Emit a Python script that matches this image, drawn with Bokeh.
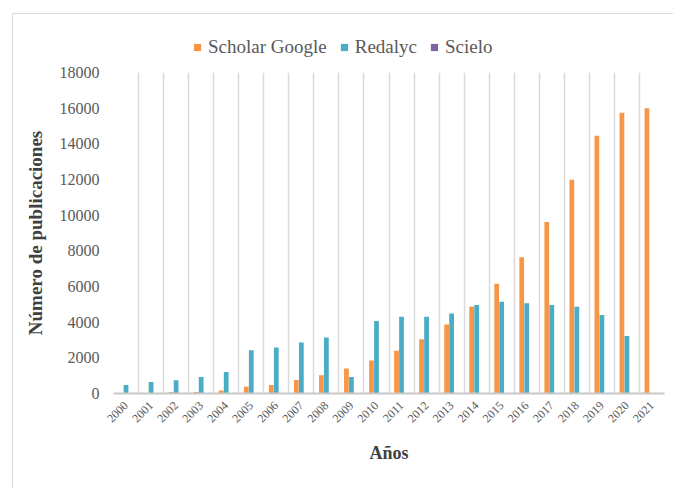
from bokeh.plotting import figure
from bokeh.models import ColumnDataSource, FixedTicker, Range1d, Legend, LegendItem
from bokeh.transform import dodge
from bokeh.layouts import column
from bokeh.embed import file_html
from bokeh.resources import INLINE

years = ["2000", "2001", "2002", "2003", "2004", "2005", "2006", "2007", "2008", "2009", "2010",
         "2011", "2012", "2013", "2014", "2015", "2016", "2017", "2018", "2019", "2020", "2021"]
scholar_google = [0, 0, 80, 80, 170, 380, 480, 760, 1020, 1400, 1850, 2400, 3040, 3870, 4880,
                  6160, 7640, 9610, 11990, 14450, 15750, 16000]
redalyc = [480, 650, 740, 930, 1210, 2420, 2580, 2860, 3140, 930, 4060, 4310, 4310, 4490, 4960,
           5150, 5060, 4960, 4870, 4400, 3230, 0]
scielo = [0] * 22
series_names = ["Scholar Google", "Redalyc", "Scielo"]
series_cols = ["sg", "rd", "sc"]
series_colors = ["#F79646", "#4BACC6", "#8064A2"]
y_ticks = [0, 2000, 4000, 6000, 8000, 10000, 12000, 14000, 16000, 18000]

n = len(years)
pos = [i + 0.5 for i in range(n)]
src = ColumnDataSource(dict(x=pos, sg=scholar_google, rd=redalyc, sc=scielo))

SERIF = "Liberation Serif"
TXT = "#595959"
offsets = [-0.2, 0.0, 0.2]

# ---- legend strip (its visible range holds no data, only the legend shows) ----
lg = figure(width=660, height=44, output_backend="svg", toolbar_location=None,
            x_range=Range1d(0, n), y_range=Range1d(20000, 30000), min_border=0,
            x_axis_location=None, y_axis_location=None)
lg.outline_line_color = None
lg.background_fill_color = "white"
lg.border_fill_color = "white"
for g in lg.xgrid + lg.ygrid:
    g.grid_line_color = None
    g.visible = False
items = []
for name, colname, colr in zip(series_names, series_cols, series_colors):
    r = lg.scatter(x="x", y=colname, marker="square", size=7, source=src,
                   fill_color=colr, line_color=None)
    items.append(LegendItem(label=name, renderers=[r]))
legend = Legend(items=items, orientation="horizontal", location=(75, 0))
legend.label_text_font = SERIF
legend.label_text_font_size = "19px"
legend.label_text_color = TXT
legend.glyph_width = 18
legend.glyph_height = 18
legend.label_standoff = 2
legend.spacing = 8
legend.padding = 0
legend.margin = 0
legend.border_line_color = None
legend.background_fill_alpha = 0
lg.add_layout(legend, "center")

# ---- main chart ----
p = figure(width=660, height=430, output_backend="svg", toolbar_location=None,
           x_range=Range1d(0, n), y_range=Range1d(0, 18000),
           min_border_left=100, min_border_right=9, min_border_top=14, min_border_bottom=95)
p.outline_line_color = None
p.background_fill_color = "white"
p.border_fill_color = "white"

for colname, colr, off in zip(series_cols, series_colors, offsets):
    p.vbar(x=dodge("x", off, range=p.x_range), top=colname, width=0.19, source=src,
           fill_color=colr, line_color=None)

# grid at category boundaries
p.xgrid.ticker = FixedTicker(ticks=list(range(n + 1)))
p.xgrid.grid_line_color = "#D9D9D9"
p.xgrid.grid_line_width = 1.5
p.ygrid.grid_line_color = None

xa = p.xaxis[0]
xa.ticker = FixedTicker(ticks=pos)
xa.major_label_overrides = {pos[i]: years[i] for i in range(n)}
xa.major_label_orientation = 0.785398
xa.major_label_text_font = SERIF
xa.major_label_text_font_size = "12px"
xa.major_label_text_color = TXT
xa.major_tick_line_color = None
xa.minor_tick_line_color = None
xa.axis_line_color = "#C8C8C8"
xa.axis_line_width = 2
xa.major_label_standoff = 4
xa.axis_label = "Años"
xa.axis_label_text_font = SERIF
xa.axis_label_text_font_style = "bold"
xa.axis_label_text_font_size = "18px"
xa.axis_label_text_color = "#404040"
xa.axis_label_standoff = 14

ya = p.yaxis[0]
ya.ticker = FixedTicker(ticks=y_ticks)
ya.major_label_text_font = SERIF
ya.major_label_text_font_size = "16px"
ya.major_label_text_color = TXT
ya.major_tick_line_color = None
ya.minor_tick_line_color = None
ya.axis_line_color = None
ya.major_label_standoff = 8
ya.axis_label = "Número de publicaciones"
ya.axis_label_text_font = SERIF
ya.axis_label_text_font_style = "bold"
ya.axis_label_text_font_size = "19px"
ya.axis_label_text_color = "#404040"
ya.axis_label_standoff = 11

layout = column(lg, p, spacing=0,
                styles={"margin-left": "12px", "margin-top": "13px",
                        "border-left": "1px solid #D9D9D9", "border-top": "1px solid #D9D9D9"})
open("out.html", "w").write(file_html(layout, INLINE))
